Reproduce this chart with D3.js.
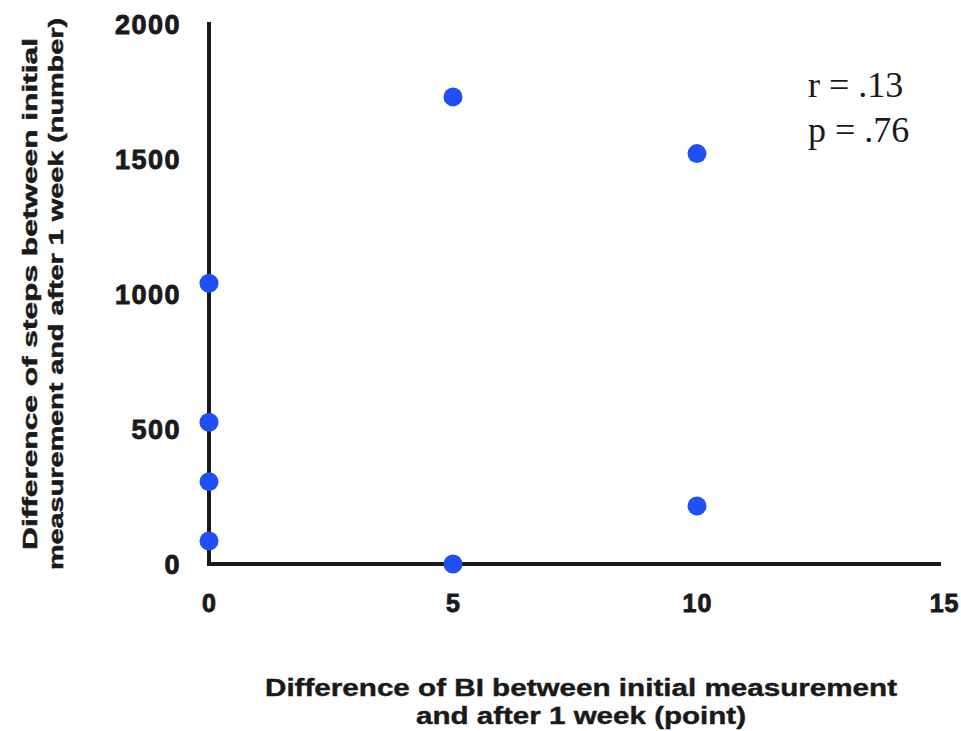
<!DOCTYPE html>
<html><head><meta charset="utf-8">
<script src="https://cdn.jsdelivr.net/npm/d3@7"></script>
<style>body{margin:0;background:#fff;}svg{display:block;}</style>
</head><body>
<svg id="chart" width="961" height="731"></svg>
<script>
const biDiff = [0, 0, 0, 0, 5, 5, 10, 10];
const stepDiff = [1040, 525, 305, 85, 1730, 0, 1520, 215];
const xTicks = [0, 5, 10, 15];
const yTicks = [0, 500, 1000, 1500, 2000];
const yTitle = ["Difference of steps between initial", "measurement and after 1 week (number)"];
const xTitle = ["Difference of BI between initial measurement", "and after 1 week (point)"];
const stats = ["r = .13", "p = .76"];

const svg = d3.select("#chart");
const x = d3.scaleLinear().domain([0, 15]).range([209, 941]);
const y = d3.scaleLinear().domain([0, 2000]).range([564, 24]);

const fontB = "'Liberation Sans', Arial, sans-serif";
const ink = "#1a1a1a";

const yAxis = svg.append("g").attr("transform", "translate(209,0)")
  .call(d3.axisLeft(y).tickValues(yTicks).tickSize(0).tickPadding(28).tickFormat(d3.format("d")));
yAxis.select(".domain").attr("stroke", ink).attr("stroke-width", 4).attr("d", `M0,${y(2000)-2}V${y(0)}`);
yAxis.selectAll("text").attr("font-family", fontB).attr("font-size", 27).attr("font-weight", 700)
  .attr("fill", ink).attr("stroke", ink).attr("stroke-width", 0.9)
  .attr("letter-spacing", 1.5).attr("dy", "0.36em");

const xAxis = svg.append("g").attr("transform", `translate(0,${y(0)})`)
  .call(d3.axisBottom(x).tickValues(xTicks).tickSize(0).tickPadding(30).tickFormat(d3.format("d")));
xAxis.select(".domain").attr("stroke", ink).attr("stroke-width", 4).attr("d", `M207,0H941`);
xAxis.selectAll("text").attr("font-family", fontB).attr("font-size", 25).attr("font-weight", 700)
  .attr("fill", ink).attr("stroke", ink).attr("stroke-width", 0.9).attr("letter-spacing", 1);
xAxis.selectAll(".tick").filter(d => d === 15).select("text").attr("text-anchor", "end").attr("dx", 18);

svg.append("g").selectAll("circle").data(biDiff.map((b, i) => [b, stepDiff[i]]))
  .join("circle").attr("cx", d => x(d[0])).attr("cy", d => y(d[1])).attr("r", 9.5)
  .attr("fill", "#1f4ff5");

const yt = svg.append("g").attr("transform", "translate(0,294) rotate(-90)");
yt.selectAll("text").data(yTitle).join("text")
  .attr("x", 0).attr("y", (d, i) => i === 0 ? 37 : 63)
  .attr("text-anchor", "middle").attr("font-family", fontB).attr("font-weight", 700)
  .attr("font-size", 20).attr("fill", ink).attr("stroke", ink).attr("stroke-width", 0.5)
  .attr("textLength", (d, i) => i === 0 ? 512 : 552).attr("lengthAdjust", "spacingAndGlyphs")
  .text(d => d);

svg.selectAll("text.xt").data(xTitle).join("text").attr("class", "xt")
  .attr("x", 581).attr("y", (d, i) => i === 0 ? 696 : 724)
  .attr("text-anchor", "middle").attr("font-family", fontB).attr("font-weight", 700)
  .attr("font-size", 23).attr("fill", ink).attr("stroke", ink).attr("stroke-width", 0.4)
  .attr("textLength", (d, i) => i === 0 ? 632 : 330).attr("lengthAdjust", "spacingAndGlyphs")
  .text(d => d);

svg.selectAll("text.st").data(stats).join("text").attr("class", "st")
  .attr("x", 808).attr("y", (d, i) => i === 0 ? 97 : 142)
  .attr("font-family", "'Liberation Serif', 'Times New Roman', serif").attr("font-size", 36)
  .attr("fill", ink).text(d => d);
</script>
</body></html>
